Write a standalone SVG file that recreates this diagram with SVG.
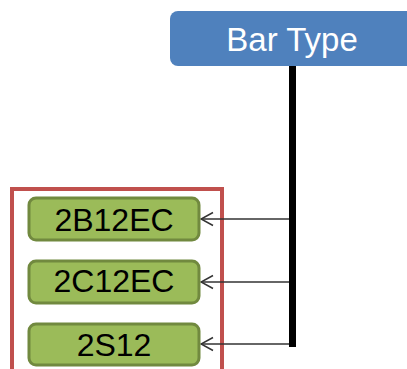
<svg xmlns="http://www.w3.org/2000/svg" width="407" height="369" viewBox="0 0 407 369">
  <defs>
    <marker id="open-arrow" markerWidth="14" markerHeight="16" refX="13" refY="8" orient="auto" markerUnits="userSpaceOnUse">
      <path d="M1,1.5 L13,8 L1,14.5" fill="none" stroke="#333333" stroke-width="1.5"/>
    </marker>
  </defs>
  <style>
    .root { fill: #4F81BD; }
    .root-label { fill: #FFFFFF; font-family: "Liberation Sans", Arial, sans-serif; font-size: 33px; text-anchor: middle; }
    .leaf { fill: #9BBB59; stroke: #71893F; stroke-width: 3; }
    .leaf-label { fill: #000000; font-family: "Liberation Sans", Arial, sans-serif; font-size: 32px; text-anchor: middle; }
    .frame { fill: none; stroke: #C0504D; stroke-width: 4; }
    .trunk { stroke: #000000; stroke-width: 7; fill: none; }
    .link { stroke: #333333; stroke-width: 1.5; fill: none; marker-end: url(#open-arrow); }
  </style>

  <!-- grouping frame around the bar types -->
  <rect class="frame" x="12" y="189" width="210" height="200"/>

  <g id="bar-type">
    <rect class="root" x="170" y="11" width="260" height="55" rx="8"/>
    <text class="root-label" x="292" y="51">Bar Type</text>
  </g>

  <g id="connectors">
    <line class="trunk" x1="292.5" y1="66" x2="292.5" y2="347"/>
    <line class="link" x1="289" y1="219" x2="201" y2="219"/>
    <line class="link" x1="289" y1="282" x2="201" y2="282"/>
    <line class="link" x1="289" y1="344" x2="201" y2="344"/>
  </g>

  <g id="bar-2B12EC">
    <rect class="leaf" x="29" y="198" width="170" height="42" rx="7"/>
    <text class="leaf-label" x="114" y="231">2B12EC</text>
  </g>

  <g id="bar-2C12EC">
    <rect class="leaf" x="29" y="261" width="170" height="42" rx="7"/>
    <text class="leaf-label" x="114" y="292">2C12EC</text>
  </g>

  <g id="bar-2S12">
    <rect class="leaf" x="29" y="324" width="170" height="41" rx="7"/>
    <text class="leaf-label" x="114" y="356">2S12</text>
  </g>
</svg>
